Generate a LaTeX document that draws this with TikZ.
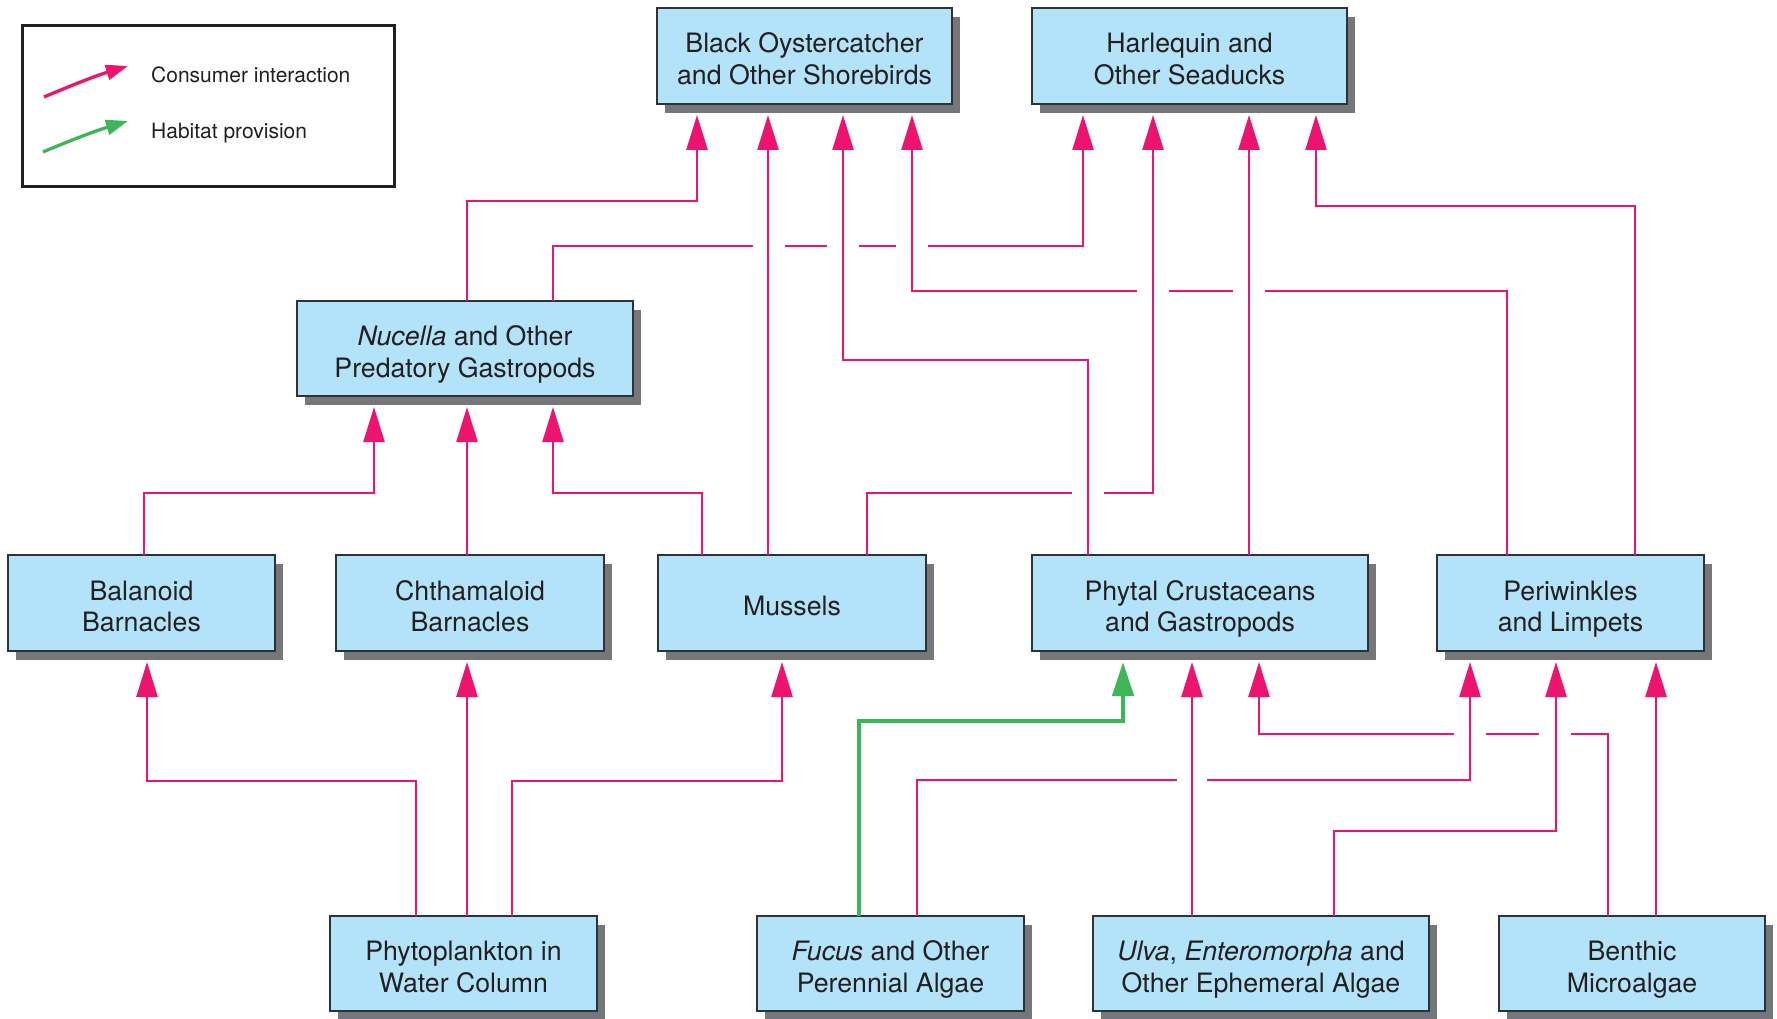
\documentclass[tikz,border=0pt]{standalone}
\usepackage{fontspec}
\setmainfont{TeX Gyre Heros}
\usetikzlibrary{arrows.meta,shadows}
\definecolor{linkpink}{HTML}{EC146E}
\definecolor{habgreen}{HTML}{3FB55A}
\definecolor{boxfill}{HTML}{B3E3F8}
\definecolor{boxline}{HTML}{2E3338}
\definecolor{shade}{HTML}{76777B}
\definecolor{ink}{HTML}{231F20}
% fixed height of the first text line in every box
\newcommand{\firstline}{\rule{0pt}{25.5pt}}
\begin{document}
\begin{tikzpicture}[x=1pt,y=-1pt,
  box/.style={draw=boxline,line width=1.2pt,fill=boxfill,text=ink,align=center,
    font=\fontsize{26.7}{31.5}\selectfont,inner sep=0pt,outer sep=0pt,anchor=north west,
    text depth=0pt,
    drop shadow={shadow xshift=8pt,shadow yshift=-9pt,fill=shade,opacity=1}},
  con/.style={draw=linkpink,line width=2.5pt,-{Triangle[length=35pt,width=21pt]},shorten >=11pt},
  hab/.style={draw=habgreen,line width=4.6pt,-{Triangle[length=34pt,width=21pt]},shorten >=11pt},
  legbox/.style={draw=ink,line width=2.7pt,fill=white,inner sep=0pt,outer sep=0pt,anchor=north west},
  legtext/.style={text=ink,font=\fontsize{21}{25}\selectfont,inner sep=0pt,anchor=base west},
  legpink/.style={draw=linkpink,line width=3.3pt,-{Triangle[length=22pt,width=15pt]}},
  leggreen/.style={draw=habgreen,line width=3.3pt,-{Triangle[length=22pt,width=15pt]}},
]
\useasboundingbox (0,0) rectangle (1777,1019);

% legend
\node[legbox,minimum width=372pt,minimum height=161pt] (leg) at (22.5,25.5) {};
\coordinate (lpA) at (44,97);
\coordinate (lpB) at (128,66);
\coordinate (lgA) at (43,152);
\coordinate (lgB) at (128,121);
\draw[legpink] (lpA) .. controls (70,86) and (95,76) .. (lpB);
\draw[leggreen] (lgA) .. controls (69,141) and (95,131) .. (lgB);
\node[legtext] (lt1) at (151,83) {Consumer interaction};
\node[legtext] (lt2) at (151,139) {Habitat provision};

% top consumers
\node[box,minimum width=295pt,minimum height=96pt] (bo) at (657,8) {\firstline Black Oystercatcher\\and Other Shorebirds};
\node[box,minimum width=315pt,minimum height=96pt] (hq) at (1032,8) {\firstline Harlequin and\\Other Seaducks};
\node[box,minimum width=336pt,minimum height=95pt] (nuc) at (297,301) {\firstline\textit{Nucella} and Other\\Predatory Gastropods};

% grazers and filter feeders
\node[box,minimum width=267pt,minimum height=96pt] (bal) at (8,555) {\firstline Balanoid\\Barnacles};
\node[box,minimum width=268pt,minimum height=96pt] (cht) at (336,555) {\firstline Chthamaloid\\Barnacles};
\node[box,minimum width=268pt,minimum height=96pt] (mus) at (658,555) {\firstline Mussels};
\node[box,minimum width=336pt,minimum height=96pt] (phy) at (1032,555) {\firstline Phytal Crustaceans\\and Gastropods};
\node[box,minimum width=267pt,minimum height=96pt] (per) at (1437,555) {\firstline Periwinkles\\and Limpets};

% producers
\node[box,minimum width=267pt,minimum height=95pt] (pp) at (330,916) {\firstline Phytoplankton in\\Water Column};
\node[box,minimum width=267pt,minimum height=95pt] (fuc) at (757,916) {\firstline\textit{Fucus} and Other\\Perennial Algae};
\node[box,minimum width=336pt,minimum height=95pt] (ulv) at (1093,916) {\firstline\textit{Ulva}, \textit{Enteromorpha} and\\Other Ephemeral Algae};
\node[box,minimum width=266pt,minimum height=95pt] (ben) at (1499,916) {\firstline Benthic\\Microalgae};

% links to the top consumers
\draw[con] (nuc.north -| 467,0) |- (697,201) -- (bo.south -| 697,0);
\draw[con] (nuc.north -| 553,0) |- (753,246) (785,246) -- (827,246) (859,246) -- (896,246) (928,246) -| (hq.south -| 1083,0);
\draw[con] (mus.north -| 768,0) -- (bo.south -| 768,0);
\draw[con] (phy.north -| 1088,0) |- (843,360) -- (bo.south -| 843,0);
\draw[con] (per.north -| 1507,0) |- (1265,291) (1233,291) -- (1169,291) (1137,291) -| (bo.south -| 912,0);
\draw[con] (per.north -| 1635,0) |- (1316,206) -- (hq.south -| 1316,0);
\draw[con] (phy.north -| 1249,0) -- (hq.south -| 1249,0);
\draw[con] (mus.north -| 867,0) |- (1072,493) (1104,493) -| (hq.south -| 1153,0);

% links to the predatory gastropods
\draw[con] (mus.north -| 702,0) |- (553,493) -- (nuc.south -| 553,0);
\draw[con] (cht.north -| 467,0) -- (nuc.south -| 467,0);
\draw[con] (bal.north -| 144,0) |- (374,493) -- (nuc.south -| 374,0);

% links from the producers
\draw[con] (pp.north -| 416,0) |- (147,781) -- (bal.south -| 147,0);
\draw[con] (pp.north -| 467,0) -- (cht.south -| 467,0);
\draw[con] (pp.north -| 512,0) |- (782,781) -- (mus.south -| 782,0);
\draw[hab] (fuc.north -| 859,0) |- (1123,721) -- (phy.south -| 1123,0);
\draw[con] (fuc.north -| 917,0) |- (1177,780) (1207,780) -| (per.south -| 1470,0);
\draw[con] (ulv.north -| 1192,0) -- (phy.south -| 1192,0);
\draw[con] (ulv.north -| 1334,0) |- (1556,831) -- (per.south -| 1556,0);
\draw[con] (ben.north -| 1608,0) |- (1571,734) (1539,734) -- (1486,734) (1454,734) -| (phy.south -| 1259,0);
\draw[con] (ben.north -| 1656,0) -- (per.south -| 1656,0);
\end{tikzpicture}
\end{document}
